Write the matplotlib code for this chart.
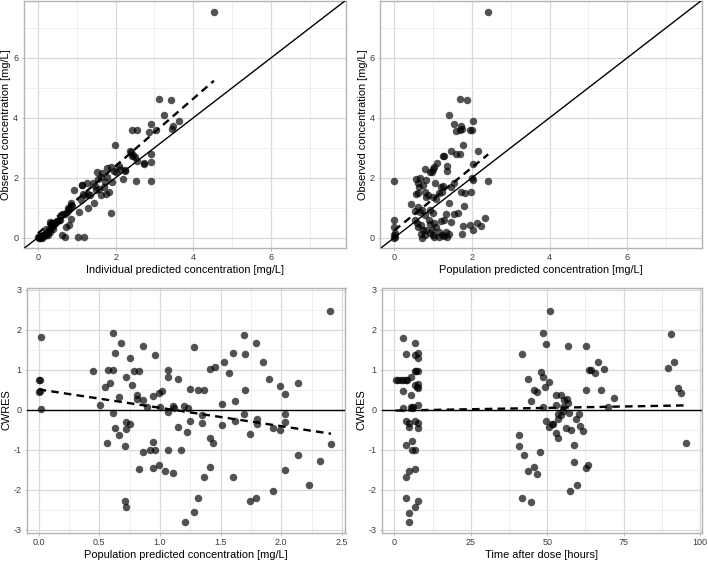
import matplotlib
matplotlib.use("Agg")
import matplotlib.pyplot as plt
import numpy as np
from matplotlib.ticker import MultipleLocator, FormatStrFormatter

plt.rcParams['font.family'] = ['Liberation Sans', 'DejaVu Sans']
plt.rcParams['axes.unicode_minus'] = False

# ---------------- Panel 1: observed vs individual predicted ----------------
ipred_p1 = [4.53, 3.11, 3.43, 3.24, 3.64, 3.47, 3.45, 2.92, 3.05, 2.86, 2.55, 2.41,
            1.99, 2.37, 2.43, 2.49, 2.73, 2.91, 2.90, 2.53, 2.90, 2.20, 2.24, 2.10,
            1.89, 1.95, 1.77, 1.78, 1.90, 1.53, 1.63, 1.41, 1.26, 1.14, 0.94, 1.50,
            1.71, 1.84, 1.63, 1.76, 1.33, 1.20, 1.44, 1.29, 1.12, 0.86, 0.81, 1.07,
            1.89, 0.69, 0.86, 0.56, 0.43, 0.30, 0.73, 0.81, 0.62, 0.70, 1.04, 1.19,
            2.02, 2.12, 2.25, 1.55, 1.65, 1.72, 1.58, 1.47, 1.30, 1.17, 1.13, 0.84,
            0.88, 0.60, 0.65, 0.75, 0.80, 0.78, 0.55, 0.50, 0.45, 0.42, 0.40, 0.38,
            0.35, 0.32, 0.30, 0.28, 0.25, 0.22, 0.20, 0.18, 0.15, 0.12, 0.10, 0.08,
            0.05, 0.03, 0.00, 0.02, 0.10, 0.15, 0.25, 0.20, 0.40, 0.05, 0.35, 0.48,
            2.72, 2.55, 2.39, 2.46]
dv_p1 = [7.52, 4.62, 4.59, 4.09, 3.89, 3.71, 3.61, 3.79, 3.60, 3.51, 3.60, 3.60,
         3.08, 2.89, 2.74, 2.69, 2.47, 2.80, 2.53, 1.90, 1.88, 1.97, 2.24, 2.39,
         2.36, 2.24, 2.32, 2.03, 1.87, 2.18, 2.03, 1.83, 1.83, 1.76, 1.58, 1.58,
         1.69, 1.53, 1.41, 1.47, 1.41, 1.41, 1.16, 1.00, 1.25, 1.14, 0.97, 0.86,
         0.82, 0.80, 0.63, 0.58, 0.49, 0.52, 0.36, 0.41, 0.10, 0.02, 0.02, 0.02,
         2.19, 2.30, 2.25, 1.95, 2.15, 1.85, 1.62, 1.72, 1.45, 1.47, 1.77, 1.10,
         1.05, 0.75, 0.78, 0.85, 0.95, 1.00, 0.60, 0.55, 0.50, 0.48, 0.45, 0.40,
         0.35, 0.30, 0.18, 0.25, 0.20, 0.10, 0.15, 0.12, 0.10, 0.08, 0.02, 0.05,
         0.00, 0.03, 0.02, 0.00, 0.00, 0.05, 0.08, 0.30, 0.30, 0.05, 0.50, 0.55,
         2.50, 2.55, 2.86, 2.75]

# ---------------- Panel 2: observed vs population predicted ----------------
pred_p2 = [2.42, 1.69, 1.86, 1.41, 2.04, 1.53, 1.71, 1.74, 1.59, 1.68, 1.95, 2.00,
           1.78, 1.46, 2.15, 1.60, 1.69, 1.25, 1.29, 1.09, 1.36, 1.35, 2.03, 1.03,
           0.99, 0.97, 0.93, 0.78, 2.01, 2.04, 2.42, 0.00, 0.56, 0.66, 0.60, 0.73,
           0.82, 0.63, 1.04, 1.53, 1.25, 1.21, 1.47, 0.60, 0.57, 0.78, 0.88, 0.82,
           1.16, 1.23, 1.00, 1.07, 1.72, 1.81, 1.97, 0.43, 0.53, 0.60, 0.72, 0.65,
           0.80, 0.91, 1.00, 1.41, 1.63, 1.55, 1.79, 1.34, 1.19, 1.29, 1.45, 0.00,
           0.00, 0.02, 0.00, 0.00, 0.53, 0.58, 0.60, 0.69, 0.73, 0.82, 0.69, 0.78,
           0.90, 0.93, 1.02, 1.08, 0.97, 0.93, 1.00, 1.16, 1.22, 1.29, 1.36, 1.41,
           1.34, 1.74, 1.77, 1.94, 2.03, 2.14, 2.24, 2.34, 1.03, 1.16, 0.72, 0.01]
dv_p2 = [7.52, 4.63, 4.59, 4.09, 3.89, 3.78, 3.71, 3.64, 3.56, 3.60, 3.59, 3.60,
         3.08, 2.89, 2.89, 2.80, 2.80, 2.72, 2.73, 2.50, 2.39, 2.24, 2.47, 2.36,
         2.30, 2.19, 2.19, 2.30, 1.99, 1.91, 1.88, 1.88, 1.97, 1.99, 1.82, 1.77,
         1.91, 1.69, 1.82, 1.82, 1.71, 1.69, 1.69, 1.49, 1.47, 1.52, 1.41, 1.36,
         1.49, 1.51, 1.36, 1.30, 1.52, 1.49, 1.52, 1.11, 0.89, 1.02, 0.93, 0.86,
         0.74, 0.91, 0.82, 1.16, 0.83, 0.80, 1.04, 0.80, 0.54, 0.58, 0.52, 0.58,
         0.36, 0.16, 0.08, 0.00, 0.58, 0.49, 0.36, 0.41, 0.24, 0.24, 0.13, 0.08,
         0.58, 0.47, 0.49, 0.36, 0.24, 0.16, 0.10, 0.19, 0.08, 0.04, 0.02, 0.11,
         0.19, 0.13, 0.38, 0.41, 0.27, 0.49, 0.40, 0.67, 0.02, 0.02, 0.00, 0.03]

# ---------------- Panel 3: CWRES vs population predicted ----------------
pred_p3 = [2.40, 0.02, 0.00, 0.01, 0.00, 0.01, 0.02, 0.45, 0.51, 0.55, 0.57, 0.61,
           0.59, 0.61, 0.63, 0.68, 0.75, 0.66, 0.61, 0.56, 0.63, 0.66, 0.72, 0.77,
           0.79, 0.83, 0.81, 0.81, 0.72, 0.75, 0.72, 0.71, 0.71, 0.72, 0.83, 0.86,
           0.86, 0.89, 0.86, 0.94, 0.92, 0.94, 0.96, 0.94, 0.96, 0.99, 1.02, 1.00,
           0.99, 1.04, 1.07, 1.07, 1.07, 1.07, 1.11, 1.11, 1.12, 1.15, 1.15, 1.17,
           1.20, 1.23, 1.22, 1.21, 1.25, 1.25, 1.28, 1.28, 1.31, 1.31, 1.36, 1.35,
           1.35, 1.36, 1.41, 1.45, 1.41, 1.44, 1.41, 1.51, 1.51, 1.53, 1.57, 1.60,
           1.62, 1.60, 1.62, 1.69, 1.70, 1.70, 1.69, 1.74, 1.74, 1.79, 1.80, 1.80,
           1.79, 1.85, 1.90, 1.93, 1.93, 1.99, 1.99, 2.03, 2.03, 2.03, 2.03, 2.14,
           2.14, 2.23, 2.32, 2.41]
cwres_p3 = [2.47, 1.82, 0.75, 0.74, 0.44, 0.46, 0.03, 0.97, 0.11, 0.57, 1.00, 0.99,
            0.66, 1.91, 1.42, 1.66, 1.29, 0.32, -0.08, -0.83, -0.45, -0.62, 0.82, 0.62,
            0.96, 0.98, 0.36, 0.28, -0.31, -0.35, -0.47, -0.91, -2.27, -2.43, -1.48, 1.59,
            0.24, 0.07, -1.05, 0.35, -1.01, -0.80, -1.01, -1.45, 1.36, 0.43, 0.46, 0.07,
            -1.39, -1.52, 1.00, 0.83, -0.06, -1.00, -1.58, 0.09, 0.05, -0.43, 0.76, -1.00,
            0.09, 0.05, -0.55, -2.81, 0.53, -0.29, 1.57, -2.56, 0.49, -2.20, 0.49, -0.14,
            -0.33, -1.68, 1.03, 1.06, -0.70, -0.84, -1.43, 0.15, -0.39, 1.20, 0.92, 1.41,
            0.22, -1.67, -0.28, 1.88, 1.39, 0.49, -0.10, -0.60, -2.28, 1.66, -0.22, -0.36,
            -2.20, 1.20, 0.77, -2.03, -0.45, 0.59, -0.50, 0.39, -0.10, -0.30, -1.51, 0.67,
            -1.14, -1.89, -1.29, -0.86]

# ---------------- Panel 4: CWRES vs time after dose ----------------
time_p4 = [0.4, 1.3, 2.1, 2.9, 3.7, 4.2, 2.9, 2.9, 2.9, 3.9, 3.9, 3.7, 3.9, 3.9,
           4.8, 4.8, 4.8, 4.8, 4.8, 5.3, 5.5, 5.6, 5.9, 5.9, 6.9, 6.8, 6.8, 6.8,
           7.2, 6.8, 7.4, 6.8, 6.8, 6.8, 7.8, 7.8, 7.8, 7.8, 7.8, 7.8, 7.8, 7.8,
           7.8, 6.2, 5.8,
           40.6, 40.6, 41.6, 41.6, 42.5, 43.6, 43.6, 44.7, 44.7, 45.6, 45.7, 46.7,
           46.7, 47.6, 47.8, 48.5, 48.6, 48.6, 49.4, 49.7, 49.6, 50.5, 50.8, 50.5,
           51.6, 51.9, 52.7, 52.7, 52.7, 53.6, 53.4, 53.6, 54.5, 54.5, 55.1, 55.3,
           55.6, 56.5, 56.7, 56.8, 56.1, 57.0, 57.8, 57.6, 58.6, 58.6, 59.4, 59.7,
           60.5, 60.8, 61.7, 62.7, 62.7, 62.7, 63.3, 63.6, 64.4, 65.5, 66.6, 67.7,
           68.7, 69.7, 71.7,
           89.4, 90.5, 91.6, 92.6, 93.7, 95.4]
cwres_p4 = [0.75, 0.75, 0.75, 0.75, 0.75, 0.75, 1.80, 0.46, 0.05, 1.39, -0.28, -0.87, -1.69, -2.20,
            -0.33, -0.43, -1.52, -2.58, -2.81, 0.82, 0.36, 0.07, -0.79, -1.00, -1.00, 1.66, 1.36, 0.98,
            0.98, 0.63, 0.58, -0.28, -1.49, -2.44, 1.42, 1.29, 0.97, 0.64, 0.55, 0.11, -0.33, -0.46,
            -2.27, 0.08, 0.05,
            -0.62, -0.91, 1.39, -2.20, -1.13, 0.76, -1.52, 0.21, -2.30, 0.50, -1.43, 0.44,
            -1.60, -1.05, 0.94, 0.82, 1.92, 0.08, 0.58, 1.65, -0.29, 0.69, 2.48, -0.43,
            -0.35, -0.35, 0.38, 0.13, -0.58, -0.70, -0.10, -0.22, 0.36, -0.14, 0.07, -0.03,
            0.25, 0.27, 0.17, 1.59, -0.46, -0.08, -0.50, -2.03, -0.87, -1.31, -0.22, -1.87,
            -0.10, -0.41, -0.54, 1.59, 0.49, -1.45, -1.39, 1.00, 1.00, 0.92, 1.19, 0.49,
            1.03, 0.07, 0.30,
            1.04, 1.89, 1.19, 0.55, 0.43, -0.83]

# trend (dashed) line coefficients: intercept, slope
trend_p1 = (0.14, 1.125)
trend_p2 = (0.24, 1.05)
trend_p3 = (0.51, -0.46)
trend_p4 = (-0.02, 0.00137)

x_labels = ["Individual predicted concentration [mg/L]",
            "Population predicted concentration [mg/L]",
            "Population predicted concentration [mg/L]",
            "Time after dose [hours]"]
y_labels = ["Observed concentration [mg/L]", "Observed concentration [mg/L]",
            "CWRES", "CWRES"]

fig = plt.figure(figsize=(7.08, 5.61), dpi=100)
W, H = 708, 561
def axbox(l, r, t, b):
    return [l / W, 1 - b / H, (r - l) / W, (b - t) / H]

axes = [fig.add_axes(axbox(23.5, 346, 1, 247.5)),
        fig.add_axes(axbox(380, 702, 1, 247.5)),
        fig.add_axes(axbox(26.5, 345.5, 287.5, 532.5)),
        fig.add_axes(axbox(381.5, 702, 287.5, 532.5))]

border = "#B3B3B3"
major_c = "#D9D9D9"
minor_c = "#EBEBEB"

def style(ax, xmaj, ymaj):
    ax.set_facecolor("white")
    ax.xaxis.set_major_locator(MultipleLocator(xmaj))
    ax.xaxis.set_minor_locator(MultipleLocator(xmaj / 2))
    ax.yaxis.set_major_locator(MultipleLocator(ymaj))
    ax.yaxis.set_minor_locator(MultipleLocator(ymaj / 2))
    ax.grid(True, which="major", color=major_c, linewidth=0.9)
    ax.grid(True, which="minor", color=minor_c, linewidth=0.6)
    ax.set_axisbelow(True)
    for s in ax.spines.values():
        s.set_color(border)
        s.set_linewidth(1.0)
    ax.tick_params(which="major", length=1.8, width=0.6, color=border,
                   labelsize=6.5, labelcolor="#3A3A3A", pad=2.0)
    ax.tick_params(which="minor", length=0)

pt_kw = dict(s=29, color="black", alpha=0.68, linewidths=0, zorder=3)
dash_kw = dict(color="black", linewidth=1.7, linestyle=(0, (3.2, 2.2)), zorder=4)

datasets = [(ipred_p1, dv_p1, trend_p1), (pred_p2, dv_p2, trend_p2),
            (pred_p3, cwres_p3, trend_p3), (time_p4, cwres_p4, trend_p4)]

for i, (ax, (x, y, tr)) in enumerate(zip(axes, datasets)):
    x = np.asarray(x); y = np.asarray(y)
    if i < 2:
        ax.set_xlim(-0.37, 7.93)
        ax.set_ylim(-0.33, 7.9)
        style(ax, 2, 2)
        ax.axline((0, 0), slope=1, color="black", linewidth=1.0, zorder=4)
    else:
        style(ax, 0.5 if i == 2 else 25, 1)
        if i == 2:
            ax.set_xlim(-0.10, 2.53)
            ax.xaxis.set_major_formatter(FormatStrFormatter("%.1f"))
        else:
            ax.set_xlim(-4.2, 100.6)
        ax.set_ylim(-3.07, 3.06)
        ax.axhline(0, color="black", linewidth=1.0, zorder=4)
    ax.scatter(x, y, **pt_kw)
    xs = np.array([x.min(), x.max()])
    ax.plot(xs, tr[0] + tr[1] * xs, **dash_kw)
    ax.set_xlabel(x_labels[i], fontsize=7.9, labelpad=2.5)
    ax.set_ylabel(y_labels[i], fontsize=7.9, labelpad=1.2)

fig.savefig("out.png", dpi=100)
